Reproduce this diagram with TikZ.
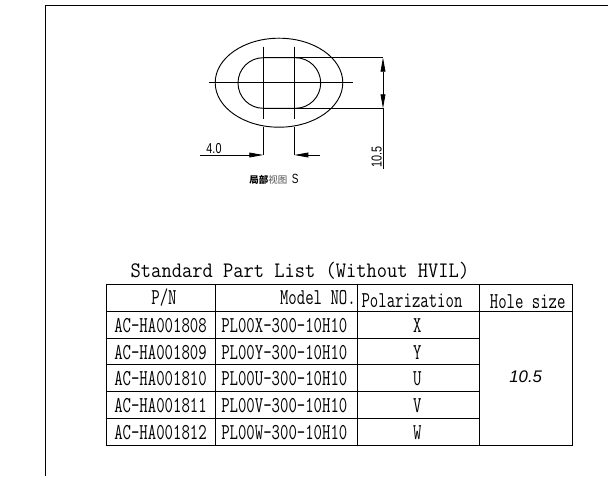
\documentclass[tikz,border=0pt]{standalone}
\usepackage{fontspec}
\setmainfont{Liberation Sans}
\newfontfamily\parttt[FakeStretch=.72]{Latin Modern Mono}
\newfontfamily\titlett[FakeStretch=.9]{Latin Modern Mono}
\newfontfamily\dimsans[FakeStretch=.75]{Liberation Sans}
\newfontfamily\cjkfont{Noto Sans CJK SC}
\usetikzlibrary{arrows.meta}
\tikzset{
  partline/.style={line width=.7pt},
  dimline/.style={line width=.6pt},
  dimtip/.style={-{Triangle[length=10.5pt,width=3.6pt]}},
  parttext/.style={font=\parttt\fontsize{17}{19}\selectfont,inner sep=0pt},
  dimtext/.style={font=\dimsans\fontsize{10.8}{12}\selectfont,inner sep=0pt},
}
\begin{document}
\begin{tikzpicture}[x=.75pt,y=-.75pt]
  \useasboundingbox (0,0) rectangle (608,476);
  \draw[partline] (45,5) -- (608,5);
  \draw[partline] (45,5) -- (45,476);

  % view S
  \draw[partline] (279,82.7) ellipse[x radius=63.8,y radius=44.5];
  \draw[partline] (263.3,57.7) -- (295.4,57.7) arc[start angle=-90,end angle=90,radius=25.3]
    -- (263.3,108.3) arc[start angle=90,end angle=270,radius=25.3];
  \draw[partline]
    (209,82.7) -- (353,82.7)
    (263.3,46.7) -- (263.3,119.3)
    (294.3,46.7) -- (294.3,119.3)
    (263.3,127) -- (263.3,155)
    (294.3,127) -- (294.3,155);
  \draw[dimline] (263.3,57.7) -- (383,57.7) (263.3,108.3) -- (383,108.3);
  \draw[dimline,dimtip] (200,155) -- (263.3,155);
  \draw[dimline,dimtip] (320,155) -- (294.3,155);
  \draw[dimline,dimtip] (383,83) -- (383,57.7);
  \draw[dimline,dimtip] (383,83) -- (383,108.3);
  \draw[dimline] (383,108.3) -- (383,169);
  \node[dimtext] (widthlabel) at (214,148.3) {4.0};
  \node[dimtext,rotate=90] (holelabel) at (376.7,157.3) {10.5};
  \node[font=\cjkfont\fontsize{7.1}{9}\selectfont,inner sep=0pt] (viewlabel) at (274,179) {\textbf{局部}\textcolor{black!70}{视图}\hspace{3.5pt}{\dimsans\fontsize{10}{10}\selectfont S}};

  % part list
  \node[font=\titlett\fontsize{16.6}{18}\selectfont,inner sep=0pt] (listtitle) at (300,271) {Standard Part List (Without HVIL)};
  \draw[partline] (106.7,284) rectangle (572.3,445.3);
  \draw[partline]
    (106.7,311) -- (572.3,311)
    (106.7,338) -- (479.7,338)
    (106.7,364.7) -- (479.7,364.7)
    (106.7,391.3) -- (479.7,391.3)
    (106.7,418.7) -- (479.7,418.7)
    (215.3,284) -- (215.3,445.3)
    (357,284) -- (357,445.3)
    (479.7,284) -- (479.7,445.3);
  \node[parttext] (headpn) at (164,298) {P/N};
  \node[parttext,anchor=east] (headmodel) at (356,297.5) {Model NO.};
  \node[parttext] (headpol) at (412,300.7) {Polarization};
  \node[parttext] (headhole) at (527.7,301.7) {Hole size};
  \foreach \y/\pn/\model/\pol in {
    325.7/AC-HA001808/PL00X-300-10H10/X,
    352.4/AC-HA001809/PL00Y-300-10H10/Y,
    379/AC-HA001810/PL00U-300-10H10/U,
    405.7/AC-HA001811/PL00V-300-10H10/V,
    432.4/AC-HA001812/PL00W-300-10H10/W}{
    \node[parttext] (pn\pol) at (160.5,\y) {\pn};
    \node[parttext] (model\pol) at (284.3,\y) {\model};
    \node[parttext] (pol\pol) at (417.3,\y) {\pol};
  }
  \node[font=\itshape\fontsize{12.6}{14}\selectfont,inner sep=0pt] (holesize) at (525.7,377) {10.5};
\end{tikzpicture}
\end{document}
